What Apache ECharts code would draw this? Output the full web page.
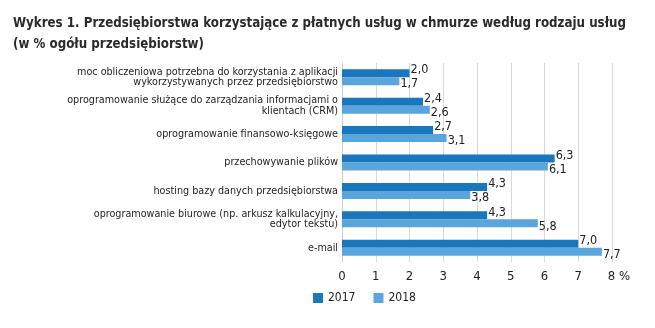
<!DOCTYPE html>
<html>
<head>
<meta charset="utf-8">
<script src="https://cdn.jsdelivr.net/npm/echarts@6/dist/echarts.min.js"></script>
<style>
  html, body { margin: 0; padding: 0; background: #ffffff; }
  #chart { width: 655px; height: 328px; }
</style>
</head>
<body>
<div id="chart"></div>
<script>
// Service categories (top to bottom)
const categories = [
  'moc obliczeniowa potrzebna do korzystania z aplikacji\nwykorzystywanych przez przedsiębiorstwo',
  'oprogramowanie służące do zarządzania informacjami o\nklientach (CRM)',
  'oprogramowanie finansowo-księgowe',
  'przechowywanie plików',
  'hosting bazy danych przedsiębiorstwa',
  'oprogramowanie biurowe (np. arkusz kalkulacyjny,\nedytor tekstu)',
  'e-mail'
];
// Share of enterprises, %
const values2017 = [2.0, 2.4, 2.7, 6.3, 4.3, 4.3, 7.0];
const values2018 = [1.7, 2.6, 3.1, 6.1, 3.8, 5.8, 7.7];
const seriesNames = ['2017', '2018'];
const xTicks = [0, 1, 2, 3, 4, 5, 6, 7, 8];

const FONT = '"Liberation Sans Narrow", "DejaVu Sans Condensed", "Liberation Sans", sans-serif';
const C2017 = '#1a76bd';
const C2018 = '#5ba5dd';

const fmt = v => v.toFixed(1).replace('.', ',');

const chart = echarts.init(document.getElementById('chart'), null, { renderer: 'canvas' });
chart.setOption({
  backgroundColor: '#ffffff',
  animation: false,
  textStyle: { fontFamily: FONT },
  title: {
    text: 'Wykres 1. Przedsiębiorstwa korzystające z płatnych usług w chmurze według rodzaju usług\n(w % ogółu przedsiębiorstw)',
    left: 8,
    top: 8,
    textStyle: { fontFamily: FONT, fontSize: 13.2, fontWeight: 'bold', color: '#2b2b2b', lineHeight: 21 }
  },
  legend: {
    left: 308,
    top: 287,
    itemWidth: 10,
    itemHeight: 10,
    itemGap: 18,
    icon: 'rect',
    data: seriesNames,
    textStyle: { fontFamily: FONT, fontSize: 12, color: '#222' }
  },
  grid: { left: 342, right: 43, top: 63, bottom: 66, containLabel: false },
  xAxis: {
    type: 'value',
    min: xTicks[0],
    max: xTicks[xTicks.length - 1],
    interval: 1,
    axisLine: { show: false },
    axisTick: { show: false },
    splitLine: { show: true, lineStyle: { color: '#d9d9d9', width: 1 } },
    axisLabel: {
      margin: 8,
      fontFamily: FONT,
      fontSize: 13,
      color: '#222',
      formatter: v => v === 8 ? '{n|8}{p| %}' : String(v),
      rich: {
        n: { fontFamily: FONT, fontSize: 13, color: '#222', padding: [0, 0, 0, 14] },
        p: { fontFamily: FONT, fontSize: 13, color: '#222' }
      }
    }
  },
  yAxis: {
    type: 'category',
    inverse: true,
    data: categories,
    axisLine: { show: true, lineStyle: { color: '#cfcfcf', width: 1 } },
    axisTick: { show: false },
    axisLabel: {
      margin: 4,
      fontFamily: FONT,
      fontSize: 10.7,
      lineHeight: 10.5,
      color: '#1e1e1e',
      align: 'right'
    }
  },
  series: [
    {
      name: seriesNames[0],
      type: 'bar',
      data: values2017,
      barWidth: 8,
      barGap: '0%',
      itemStyle: { color: C2017 },
      label: {
        show: true,
        position: 'right',
        distance: 1,
        offset: [0, -3],
        fontFamily: FONT,
        fontSize: 12.5,
        color: '#222',
        formatter: p => fmt(p.value)
      }
    },
    {
      name: seriesNames[1],
      type: 'bar',
      data: values2018,
      barWidth: 8,
      barGap: '0%',
      itemStyle: { color: C2018 },
      label: {
        show: true,
        position: 'right',
        distance: 1,
        offset: [0, 3],
        fontFamily: FONT,
        fontSize: 12.5,
        color: '#222',
        formatter: p => fmt(p.value)
      }
    }
  ]
});
</script>
</body>
</html>
